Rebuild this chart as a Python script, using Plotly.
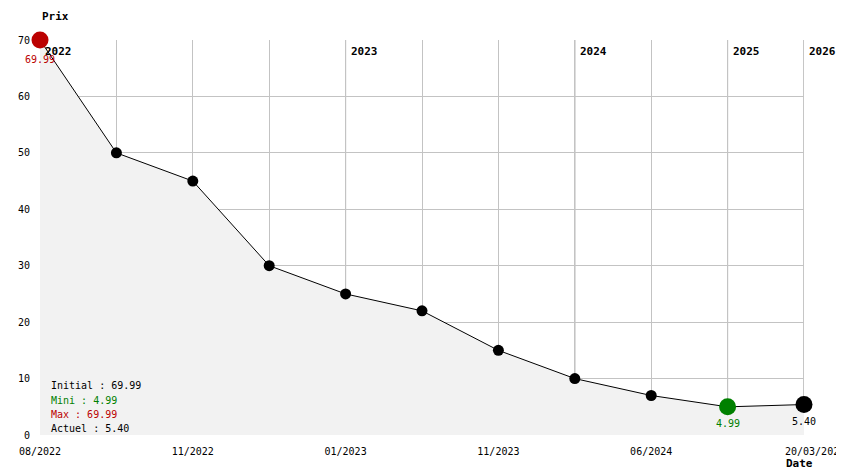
import plotly.graph_objects as go

# ---- data ----
x_labels = ["08/2022", "", "11/2022", "", "01/2023", "", "11/2023", "", "06/2024", "", "20/03/2026"]
prices = [69.99, 50, 45, 30, 25, 22, 15, 10, 7, 4.99, 5.40]
year_labels = ["2022", "2023", "2024", "2025", "2026"]
year_index = [0, 4, 7, 9, 10]
y_ticks = [0, 10, 20, 30, 40, 50, 60, 70]

initial = prices[0]
current = prices[-1]
mini = min(prices)
maxi = max(prices)
i_min = prices.index(mini)
i_max = prices.index(maxi)
i_cur = len(prices) - 1

RED = "#bb0000"
GREEN = "#008000"
FONT = "DejaVu Sans Mono"

xs = list(range(len(prices)))

fig = go.Figure()

# filled area + line
fig.add_trace(go.Scatter(
    x=xs, y=prices, mode="lines",
    line=dict(color="#000000", width=1),
    fill="tozeroy", fillcolor="#f2f2f2",
    hoverinfo="skip", showlegend=False,
))

# ordinary points
normal = [i for i in xs if i not in (i_min, i_max, i_cur)]
fig.add_trace(go.Scatter(
    x=normal, y=[prices[i] for i in normal], mode="markers",
    marker=dict(color="#000000", size=11),
    showlegend=False, cliponaxis=False,
))
# special points
fig.add_trace(go.Scatter(
    x=[i_max, i_min, i_cur], y=[maxi, mini, current], mode="markers",
    marker=dict(color=[RED, GREEN, "#000000"], size=17),
    showlegend=False, cliponaxis=False,
))

# year separators
for lab, xi in zip(year_labels, year_index):
    fig.add_shape(type="line", x0=xi, x1=xi, y0=0, y1=70, xref="x", yref="y",
                  line=dict(color="#8c8c8c", width=1), layer="below")
    fig.add_annotation(x=xi, y=70, text="<b>%s</b>" % lab, showarrow=False,
                       xanchor="left", yanchor="middle", xshift=3, yshift=-11,
                       font=dict(family=FONT, size=11, color="#000000"))

# value labels
fig.add_annotation(x=i_max, y=maxi, text="%.2f" % maxi, showarrow=False,
                   yanchor="middle", yshift=-19, font=dict(family=FONT, size=10, color=RED))
fig.add_annotation(x=i_min, y=mini, text="%.2f" % mini, showarrow=False,
                   yanchor="middle", yshift=-17, font=dict(family=FONT, size=10, color=GREEN))
fig.add_annotation(x=i_cur, y=current, text="%.2f" % current, showarrow=False,
                   yanchor="middle", yshift=-17, font=dict(family=FONT, size=10, color="#000000"))

# stats box
stats = [
    ("Initial : %.2f" % initial, "#000000", 50),
    ("Mini : %.2f" % mini, GREEN, 35),
    ("Max : %.2f" % maxi, RED, 21),
    ("Actuel : %.2f" % current, "#000000", 7),
]
for txt, col, sh in stats:
    fig.add_annotation(x=0, y=0, text=txt, showarrow=False, xanchor="left",
                       yanchor="middle", xshift=9, yshift=sh,
                       font=dict(family=FONT, size=10, color=col))

# last date label (drawn as annotation, offset like the original)
fig.add_annotation(x=xs[-1], y=0, yref="y", text=x_labels[-1], showarrow=False,
                   xanchor="left", yanchor="middle", xshift=-21, yshift=-16,
                   font=dict(family=FONT, size=10, color="#000000"))

# axis titles
fig.add_annotation(x=0, y=1.081, xref="paper", yref="paper", text="<b>Prix</b>",
                   showarrow=False, xanchor="left", yanchor="top",
                   font=dict(family=FONT, size=11, color="#000000"))
fig.add_annotation(x=0.974, y=-0.071, xref="paper", yref="paper", text="<b>Date</b>",
                   showarrow=False, xanchor="left", yanchor="middle",
                   font=dict(family=FONT, size=11, color="#000000"))

fig.update_layout(
    width=836, height=466,
    margin=dict(l=32, r=40, t=32, b=39, autoexpand=False),
    paper_bgcolor="#ffffff", plot_bgcolor="#ffffff",
    font=dict(family=FONT, size=10, color="#000000"),
    xaxis=dict(range=[0, len(prices) - 1], tickvals=xs,
               ticktext=x_labels[:-1] + [""], showgrid=True,
               gridcolor="#c3c3c3", gridwidth=1, zeroline=False, showline=False,
               ticks="", ticklabelstandoff=9, fixedrange=True, automargin=False),
    yaxis=dict(range=[0, 70], tickvals=y_ticks, showgrid=True,
               gridcolor="#c3c3c3", gridwidth=1, zeroline=False, showline=False,
               ticks="", ticklabelstandoff=9, fixedrange=True, automargin=False),
)

fig.write_html("out.html")
